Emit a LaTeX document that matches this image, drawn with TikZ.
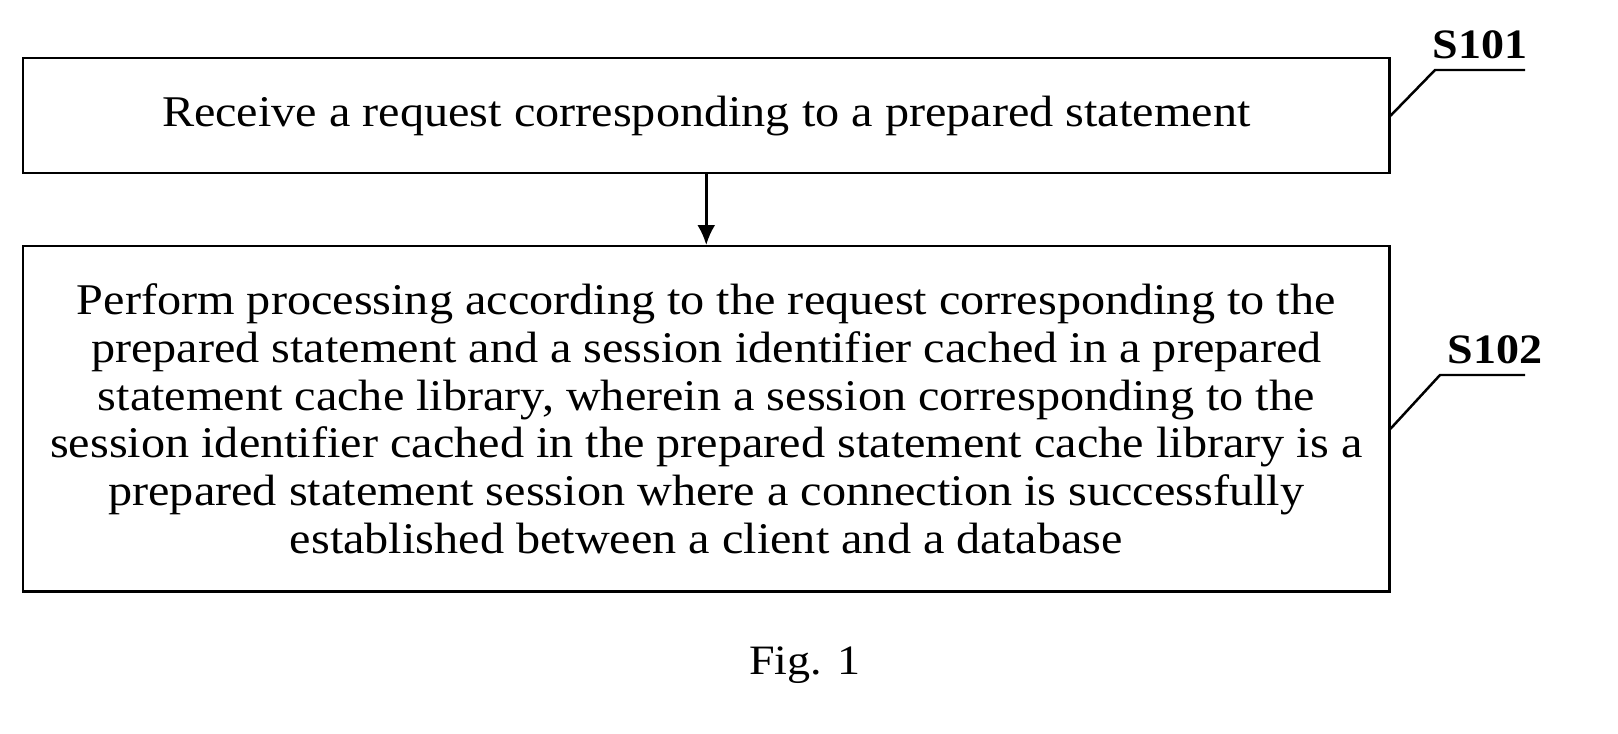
\documentclass[tikz,border=0pt]{standalone}
\usepackage{fontspec}
\usetikzlibrary{arrows.meta}
\setmainfont[FakeStretch=1.1]{Liberation Serif}
\begin{document}
\begin{tikzpicture}[x=1bp,y=-1bp,
  stepbox/.style={draw,line width=2.5pt,minimum width=1366bp,anchor=north west,inner sep=0pt,align=center,font=\fontsize{44}{48}\selectfont},
  lab/.style={font=\bfseries\fontsize{42}{42}\selectfont},
  lead/.style={line width=2.5pt}]
\draw[white,line width=0pt] (0,0) rectangle (1618,734);
\useasboundingbox (0,0) rectangle (1618,734);
\node[stepbox,minimum height=115bp] (a) at (22,57) {Receive a request corresponding to a prepared statement};
\node[stepbox,minimum height=345bp] (b) at (22,245) {Perform processing according to the request corresponding to the\\prepared statement and a session identifier cached in a prepared\\statement cache library, wherein a session corresponding to the\\session identifier cached in the prepared statement cache library is a\\prepared statement session where a connection is successfully\\established between a client and a database};
\draw[lead,-{Latex[length=20bp,width=18bp]}] (a.south) -- (b.north);
\node[lab] (s1) at (1480,45) {S101};
\node[lab] (s2) at (1495,350) {S102};
\coordinate (k1) at (1435,70);
\coordinate (e1) at (1525,70);
\coordinate (k2) at (1440,375);
\coordinate (e2) at (1525,375);
\draw[lead] (a.east) -- (k1) -- (e1);
\draw[lead] ([yshift=-10bp]b.east) -- (k2) -- (e2);
\node[font=\fontsize{42}{42}\selectfont] (f) at (805,665) {Fig. 1};
\end{tikzpicture}
\end{document}
